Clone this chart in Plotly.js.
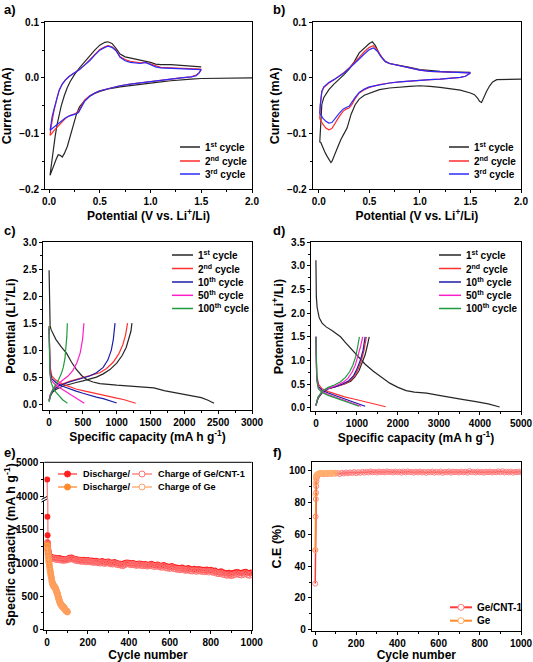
<!DOCTYPE html>
<html><head><meta charset="utf-8">
<script src="https://cdn.plot.ly/plotly-3.0.1.min.js"></script>
<style>html,body{margin:0;padding:0;background:#fff;}#chart{width:533px;height:662px;}</style>
</head><body><div id="chart"></div>
<script>
// ---------- Panel a: CV of Ge/CNT-1 [potential V, current mA] ----------
const cvA1 = [[2.0,0],[1.8,0],[1.6,-0.0005],[1.5,-0.001],[1.4,-0.002],[1.3,-0.003],[1.2,-0.005],[1.1,-0.007],[1.0,-0.009],[0.9,-0.011],[0.8,-0.013],[0.7,-0.016],[0.6,-0.019],[0.5,-0.024],[0.45,-0.028],[0.4,-0.033],[0.35,-0.041],[0.3,-0.052],[0.27,-0.065],[0.24,-0.085],[0.21,-0.105],[0.18,-0.123],[0.15,-0.136],[0.13,-0.142],[0.11,-0.139],[0.09,-0.138],[0.07,-0.146],[0.05,-0.155],[0.03,-0.165],[0.01,-0.175],
[0.02,-0.16],[0.04,-0.13],[0.06,-0.105],[0.08,-0.083],[0.1,-0.065],[0.12,-0.05],[0.15,-0.032],[0.18,-0.017],[0.21,-0.006],[0.25,0.006],[0.3,0.018],[0.35,0.029],[0.4,0.039],[0.45,0.05],[0.5,0.059],[0.55,0.064],[0.58,0.065],[0.62,0.062],[0.66,0.053],[0.7,0.043],[0.75,0.038],[0.8,0.036],[0.85,0.034],[0.9,0.032],[0.95,0.031],[1.0,0.028],[1.05,0.025],[1.1,0.024],[1.2,0.024],[1.3,0.023],[1.4,0.021],[1.5,0.02]];
const cvA2 = [[1.5,0.016],[1.48,0.01],[1.45,0.005],[1.4,0.002],[1.3,0],[1.2,-0.002],[1.1,-0.004],[1.0,-0.006],[0.9,-0.008],[0.8,-0.011],[0.7,-0.014],[0.6,-0.018],[0.5,-0.023],[0.45,-0.027],[0.4,-0.032],[0.35,-0.04],[0.32,-0.05],[0.29,-0.06],[0.26,-0.064],[0.23,-0.066],[0.2,-0.068],[0.16,-0.073],[0.12,-0.08],[0.08,-0.088],[0.05,-0.094],[0.03,-0.099],[0.01,-0.103],
[0.02,-0.088],[0.03,-0.075],[0.05,-0.058],[0.08,-0.035],[0.1,-0.022],[0.13,-0.011],[0.16,-0.004],[0.2,0.003],[0.25,0.009],[0.3,0.015],[0.35,0.023],[0.4,0.032],[0.45,0.042],[0.5,0.051],[0.55,0.056],[0.58,0.058],[0.62,0.056],[0.66,0.05],[0.7,0.038],[0.75,0.033],[0.8,0.03],[0.85,0.028],[0.9,0.027],[0.95,0.028],[1.0,0.025],[1.05,0.021],[1.1,0.019],[1.2,0.018],[1.3,0.017],[1.4,0.016],[1.5,0.016]];
const cvA3 = [[1.5,0.015],[1.48,0.009],[1.45,0.004],[1.4,0.002],[1.3,0],[1.2,-0.002],[1.1,-0.004],[1.0,-0.006],[0.9,-0.008],[0.8,-0.011],[0.7,-0.014],[0.6,-0.018],[0.5,-0.023],[0.45,-0.027],[0.4,-0.033],[0.35,-0.042],[0.32,-0.052],[0.29,-0.062],[0.26,-0.065],[0.23,-0.066],[0.2,-0.068],[0.16,-0.072],[0.12,-0.078],[0.08,-0.084],[0.05,-0.088],[0.03,-0.091],[0.01,-0.094],
[0.02,-0.082],[0.03,-0.07],[0.05,-0.055],[0.08,-0.034],[0.1,-0.022],[0.13,-0.011],[0.16,-0.004],[0.2,0.003],[0.25,0.009],[0.3,0.015],[0.35,0.023],[0.4,0.031],[0.45,0.041],[0.5,0.05],[0.55,0.055],[0.58,0.057],[0.62,0.055],[0.66,0.049],[0.7,0.037],[0.75,0.031],[0.8,0.028],[0.85,0.027],[0.9,0.026],[0.95,0.028],[1.0,0.024],[1.05,0.02],[1.1,0.018],[1.2,0.017],[1.3,0.016],[1.4,0.016],[1.5,0.015]];

// ---------- Panel b: CV of Ge ----------
const cvB1 = [[2.0,-0.002],[1.9,-0.002],[1.8,-0.002],[1.76,-0.003],[1.72,-0.007],[1.69,-0.014],[1.66,-0.024],[1.63,-0.036],[1.61,-0.044],[1.59,-0.042],[1.57,-0.036],[1.54,-0.03],[1.5,-0.027],[1.4,-0.022],[1.3,-0.019],[1.2,-0.017],[1.1,-0.015],[1.0,-0.014],[0.9,-0.015],[0.8,-0.016],[0.7,-0.018],[0.6,-0.021],[0.5,-0.027],[0.45,-0.031],[0.4,-0.038],[0.36,-0.048],[0.32,-0.065],[0.28,-0.09],[0.25,-0.1],[0.22,-0.11],[0.19,-0.123],[0.16,-0.138],[0.13,-0.15],[0.12,-0.152],[0.1,-0.147],[0.08,-0.14],[0.06,-0.133],[0.04,-0.124],[0.02,-0.116],[0.01,-0.115],
[0.015,-0.09],[0.02,-0.065],[0.03,-0.048],[0.05,-0.035],[0.08,-0.026],[0.1,-0.021],[0.15,-0.011],[0.2,-0.003],[0.25,0.006],[0.3,0.016],[0.35,0.029],[0.4,0.045],[0.45,0.054],[0.5,0.062],[0.53,0.065],[0.56,0.058],[0.6,0.043],[0.65,0.031],[0.7,0.026],[0.8,0.023],[0.9,0.019],[1.0,0.015],[1.1,0.013],[1.2,0.012],[1.3,0.011],[1.4,0.01],[1.5,0.01]];
const cvB2 = [[1.5,0.009],[1.48,0.006],[1.45,0.003],[1.4,0.001],[1.3,-0.001],[1.2,-0.002],[1.1,-0.003],[1.0,-0.004],[0.9,-0.005],[0.8,-0.007],[0.7,-0.009],[0.6,-0.012],[0.5,-0.017],[0.45,-0.021],[0.4,-0.027],[0.36,-0.037],[0.33,-0.047],[0.3,-0.054],[0.27,-0.056],[0.24,-0.06],[0.2,-0.07],[0.16,-0.083],[0.13,-0.091],[0.1,-0.093],[0.07,-0.09],[0.04,-0.083],[0.02,-0.076],[0.01,-0.073],
[0.015,-0.05],[0.02,-0.035],[0.03,-0.025],[0.05,-0.017],[0.08,-0.012],[0.1,-0.009],[0.15,-0.003],[0.2,0.003],[0.25,0.01],[0.3,0.018],[0.35,0.027],[0.4,0.037],[0.45,0.047],[0.5,0.055],[0.54,0.058],[0.58,0.05],[0.62,0.038],[0.66,0.029],[0.7,0.026],[0.8,0.022],[0.9,0.018],[1.0,0.014],[1.1,0.012],[1.2,0.011],[1.3,0.01],[1.4,0.01],[1.5,0.009]];
const cvB3 = [[1.5,0.009],[1.48,0.006],[1.45,0.003],[1.4,0.001],[1.3,-0.001],[1.2,-0.002],[1.1,-0.003],[1.0,-0.004],[0.9,-0.005],[0.8,-0.007],[0.7,-0.009],[0.6,-0.012],[0.5,-0.016],[0.45,-0.02],[0.4,-0.026],[0.36,-0.035],[0.33,-0.044],[0.3,-0.051],[0.27,-0.053],[0.24,-0.056],[0.2,-0.064],[0.16,-0.074],[0.13,-0.08],[0.1,-0.081],[0.07,-0.078],[0.04,-0.072],[0.02,-0.066],[0.01,-0.063],
[0.015,-0.048],[0.02,-0.033],[0.03,-0.024],[0.05,-0.016],[0.08,-0.011],[0.1,-0.008],[0.15,-0.003],[0.2,0.003],[0.25,0.009],[0.3,0.017],[0.35,0.025],[0.4,0.034],[0.45,0.043],[0.5,0.051],[0.54,0.054],[0.58,0.048],[0.62,0.037],[0.66,0.029],[0.7,0.026],[0.8,0.022],[0.9,0.018],[1.0,0.014],[1.1,0.012],[1.2,0.011],[1.3,0.01],[1.4,0.01],[1.5,0.009]];

// ---------- Panel c: Ge/CNT-1 profiles [capacity, potential] ----------
const c1dis = [[0,2.48],[2,2.0],[5,1.55],[15,1.45],[30,1.38],[100,1.2],[180,1.06],[260,0.94],[330,0.78],[400,0.65],[480,0.53],[560,0.45],[650,0.41],[750,0.38],[1000,0.35],[1300,0.33],[1550,0.3],[1700,0.25],[1900,0.2],[2100,0.16],[2250,0.12],[2350,0.07],[2440,0.015]];
const c1ch  = [[0,0.05],[20,0.15],[50,0.22],[100,0.27],[200,0.33],[300,0.37],[400,0.4],[500,0.43],[600,0.46],[700,0.5],[800,0.56],[900,0.64],[1000,0.76],[1080,0.9],[1140,1.05],[1180,1.2],[1210,1.35],[1225,1.5]];
const c2dis = [[0,1.45],[5,1.0],[15,0.7],[40,0.52],[100,0.44],[200,0.37],[300,0.32],[400,0.28],[500,0.25],[600,0.22],[700,0.19],[800,0.16],[900,0.13],[1000,0.11],[1100,0.085],[1200,0.05],[1280,0.015]];
const c2ch  = [[0,0.07],[20,0.18],[60,0.27],[150,0.35],[300,0.42],[450,0.47],[600,0.52],[750,0.58],[850,0.66],[950,0.78],[1030,0.93],[1090,1.1],[1130,1.28],[1160,1.5]];
const c10dis = [[0,1.4],[5,0.9],[15,0.6],[40,0.47],[100,0.4],[200,0.33],[300,0.28],[400,0.24],[500,0.2],[600,0.16],[700,0.13],[800,0.1],[900,0.06],[1000,0.02]];
const c10ch  = [[0,0.07],[20,0.17],[60,0.26],[150,0.34],[300,0.41],[450,0.46],[600,0.52],[700,0.58],[800,0.68],[870,0.82],[920,1.0],[950,1.2],[975,1.5]];
const c50dis = [[0,1.4],[5,0.85],[15,0.55],[40,0.43],[100,0.35],[200,0.27],[300,0.19],[400,0.11],[460,0.06],[520,0.015]];
const c50ch  = [[0,0.07],[20,0.18],[60,0.28],[120,0.36],[200,0.44],[280,0.52],[350,0.62],[410,0.76],[460,0.95],[495,1.2],[515,1.5]];
const c100dis = [[0,1.45],[3,1.0],[10,0.6],[25,0.42],[60,0.3],[100,0.22],[150,0.14],[200,0.08],[240,0.045],[270,0.015]];
const c100ch  = [[0,0.04],[10,0.12],[30,0.2],[60,0.28],[100,0.36],[140,0.45],[180,0.56],[210,0.68],[235,0.85],[250,1.05],[262,1.25],[270,1.5]];

// ---------- Panel d: Ge profiles ----------
const d1dis = [[0,3.12],[3,2.7],[10,2.35],[30,2.12],[80,1.9],[150,1.79],[250,1.71],[400,1.63],[500,1.57],[600,1.5],[700,1.4],[850,1.25],[1000,1.1],[1200,0.92],[1400,0.77],[1600,0.64],[1800,0.52],[2000,0.43],[2200,0.36],[2400,0.33],[2700,0.31],[3000,0.26],[3300,0.21],[3600,0.17],[3900,0.13],[4200,0.08],[4480,0.015]];
const d1ch  = [[0,0.05],[50,0.2],[150,0.32],[300,0.4],[500,0.45],[700,0.5],[850,0.56],[950,0.65],[1050,0.78],[1130,0.95],[1200,1.12],[1250,1.3],[1300,1.5]];
const d2dis = [[0,1.5],[5,1.0],[20,0.7],[60,0.5],[150,0.4],[300,0.34],[500,0.28],[700,0.23],[900,0.19],[1100,0.15],[1300,0.11],[1500,0.07],[1700,0.02]];
const d2ch  = [[0,0.05],[50,0.2],[150,0.32],[300,0.4],[500,0.45],[700,0.51],[850,0.58],[950,0.68],[1030,0.82],[1110,1.0],[1170,1.2],[1230,1.5]];
const d10dis = [[0,1.5],[5,1.0],[20,0.65],[60,0.45],[150,0.37],[300,0.31],[500,0.25],[700,0.19],[900,0.13],[1100,0.07],[1200,0.03]];
const d10ch  = [[0,0.05],[50,0.2],[150,0.32],[300,0.4],[500,0.45],[650,0.5],[800,0.57],[920,0.68],[1010,0.84],[1090,1.02],[1150,1.22],[1200,1.5]];
const d50dis = [[0,1.5],[5,1.0],[20,0.6],[60,0.42],[150,0.34],[300,0.28],[500,0.22],[700,0.16],[900,0.1],[1100,0.03]];
const d50ch  = [[0,0.05],[50,0.22],[150,0.34],[300,0.41],[500,0.47],[650,0.53],[780,0.62],[880,0.75],[960,0.9],[1030,1.1],[1090,1.3],[1140,1.5]];
const d100dis = [[0,1.5],[5,1.0],[20,0.58],[60,0.4],[150,0.32],[300,0.26],[500,0.2],[700,0.14],[900,0.08],[1050,0.03]];
const d100ch  = [[0,0.05],[50,0.22],[150,0.35],[300,0.43],[450,0.48],[600,0.55],[720,0.64],[820,0.76],[900,0.9],[970,1.08],[1020,1.3],[1060,1.5]];

// ---------- Panel e: cycling [cycle, discharge, charge] ----------
const eCNT = [[1,4500,1310],[2,1700,1290],[3,1420,1250],[4,1310,1215],[5,1250,1190],[6,1210,1165],[7,1180,1150],[8,1160,1135],[9,1140,1120],[10,1125,1110],
[20,1095,1075],[30,1085,1070],[40,1080,1060],[50,1070,1055],[60,1075,1050],[70,1065,1045],[80,1060,1040],[90,1055,1045],[100,1065,1050],
[110,1080,1060],[120,1085,1065],[130,1070,1055],[140,1060,1040],[150,1055,1035],[160,1050,1035],[170,1045,1025],[180,1050,1030],[190,1040,1020],[200,1045,1025],
[210,1035,1020],[220,1040,1015],[230,1030,1010],[240,1035,1015],[250,1025,1005],[260,1020,1000],[270,1030,1010],[280,1015,995],[290,1020,1000],[300,1025,1005],
[310,1010,990],[320,1005,985],[330,1015,995],[340,1000,980],[350,995,975],[360,990,970],[370,985,960],[380,1000,975],[390,1010,990],[400,1005,985],
[410,995,975],[420,1000,980],[430,990,970],[440,985,965],[450,995,975],[460,990,965],[470,980,960],[480,985,965],[490,975,955],[500,980,960],
[510,990,970],[520,975,950],[530,970,950],[540,980,960],[550,965,945],[560,960,935],[570,970,950],[580,955,930],[590,950,925],[600,945,920],
[610,955,935],[620,940,915],[630,935,910],[640,930,905],[650,925,900],[660,935,910],[670,920,895],[680,915,890],[690,925,900],[700,910,885],
[710,905,880],[720,915,890],[730,900,875],[740,910,885],[750,905,880],[760,900,875],[770,895,870],[780,905,880],[790,890,865],[800,900,875],
[810,885,860],[820,890,865],[830,870,845],[840,865,840],[850,875,850],[860,860,830],[870,850,825],[880,845,815],[890,855,825],[900,840,810],
[910,850,820],[920,860,830],[930,865,840],[940,855,825],[950,850,820],[960,860,830],[970,870,845],[980,855,825],[990,845,815],[1000,860,830]];
const eGe = [[1,1280,1250],[2,1270,1200],[4,1200,1140],[6,1130,1090],[8,1080,1040],[10,1040,1000],[12,990,955],[14,940,910],[16,900,870],[18,860,830],[20,820,795],[22,790,765],[24,750,725],[26,720,700],[28,700,680],[30,680,665],[32,670,655],[34,660,645],[36,650,640],[38,645,635],[40,640,625],[42,625,610],[44,610,595],[46,590,575],[48,570,555],[50,560,545],[52,540,525],[54,510,495],[56,490,475],[58,470,455],[60,450,435],[62,430,415],[64,410,400],[66,395,385],[68,385,375],[70,375,365],[72,365,355],[74,360,350],[76,350,340],[78,345,335],[80,340,330],[82,335,325],[84,330,320],[86,320,310],[88,310,300],[90,300,290],[92,290,282],[94,285,277],[96,280,272],[98,275,268],[100,270,262]];

// ---------- Panel f: coulombic efficiency [cycle, %] ----------
const ceCNT = [[1,29],[2,50],[3,71],[4,82],[5,86],[6,90],[7,93],[8,95],[9,96],[10,96.5],
[20,97.4],[30,97.8],[40,97.5],[50,98.0],[60,97.6],[70,98.1],[80,97.7],[90,98.2],[100,97.9],[110,98.3],[120,97.6],[130,98.4],[140,98.0],[150,98.6],[160,98.1],[170,98.7],[180,98.3],[190,98.9],[200,98.2],
[210,98.8],[220,98.4],[230,99.0],[240,98.5],[250,99.1],[260,98.6],[270,99.3],[280,98.7],[290,99.0],[300,98.6],[310,99.2],[320,98.8],[330,99.1],[340,98.7],[350,99.3],[360,98.9],[370,99.0],[380,98.6],[390,99.2],[400,98.8],
[410,99.1],[420,98.5],[430,99.2],[440,98.7],[450,99.3],[460,98.8],[470,99.0],[480,98.5],[490,99.1],[500,98.7],[510,99.2],[520,98.6],[530,99.0],[540,98.4],[550,99.1],[560,98.7],[570,99.2],[580,98.5],[590,99.0],[600,98.6],
[610,99.2],[620,98.4],[630,99.0],[640,98.7],[650,99.3],[660,98.5],[670,99.1],[680,98.8],[690,99.0],[700,98.6],[710,99.2],[720,98.7],[730,99.1],[740,98.5],[750,99.5],[760,98.8],[770,99.0],[780,98.6],[790,99.2],[800,98.7],
[810,99.0],[820,98.5],[830,99.1],[840,98.8],[850,99.2],[860,98.6],[870,99.0],[880,98.7],[890,99.3],[900,98.8],[910,99.4],[920,98.6],[930,99.1],[940,98.7],[950,99.2],[960,98.5],[970,99.0],[980,98.8],[990,99.2],[1000,98.7]];
const ceGe = [[1,50],[2,85],[3,92],[4,95],[5,96],[6,96.5],[8,97],[10,97.5],[15,97.8],[20,98.2],[25,98.0],[30,98.5],[35,97.6],[40,98.3],[45,98.1],[50,97.8],[55,98.4],[60,98.0],[65,98.3],[70,97.9],[75,98.5],[80,98.2],[85,98.0],[90,98.4],[95,98.1],[100,98.5]];

// ---------- text ----------
const cvLegend = ['1<sup>st</sup> cycle','2<sup>nd</sup> cycle','3<sup>rd</sup> cycle'];
const gcLegend = ['1<sup>st</sup> cycle','2<sup>nd</sup> cycle','10<sup>th</sup> cycle','50<sup>th</sup> cycle','100<sup>th</sup> cycle'];
const cvColors = ['#262626','#ff2b2b','#2b2bff'];
const gcColors = ['#262626','#ff3030','#1c1ca8','#ff1fc8','#1f9a3c'];

// ---------- build ----------
const W=533,H=662;
const px = v => v/W, py = v => 1 - v/H;
const FONT = 'Liberation Sans, Arial, sans-serif';
const col = (arr,i) => arr.map(r => r[i]);

function lineTrace(arr, color, xa, ya){
  return {type:'scatter', mode:'lines', x:col(arr,0), y:col(arr,1), xaxis:xa, yaxis:ya,
          line:{color:color, width:1.2}, showlegend:false, hoverinfo:'skip'};
}
const traces = [];
[cvA1,cvA2,cvA3].forEach((d,i)=>traces.push(lineTrace(d,cvColors[i],'x','y')));
[cvB1,cvB2,cvB3].forEach((d,i)=>traces.push(lineTrace(d,cvColors[i],'x2','y2')));
[[c1dis,c1ch],[c2dis,c2ch],[c10dis,c10ch],[c50dis,c50ch],[c100dis,c100ch]].forEach((p,i)=>{
  p.forEach(d=>traces.push(lineTrace(d,gcColors[i],'x3','y3')));});
[[d1dis,d1ch],[d2dis,d2ch],[d10dis,d10ch],[d50dis,d50ch],[d100dis,d100ch]].forEach((p,i)=>{
  p.forEach(d=>traces.push(lineTrace(d,gcColors[i],'x4','y4')));});

const eStyles = [
  {data:eCNT, idx:1, line:'#ff5a5a', mk:{symbol:'circle', color:'#ff1f1f', size:6}},
  {data:eCNT, idx:2, line:'#ff8a8a', mk:{symbol:'circle-open', color:'#ff7070', size:6, line:{width:1}}},
  {data:eGe, idx:1, line:'#ff9a50', mk:{symbol:'circle', color:'#ff8a2a', size:6}},
  {data:eGe, idx:2, line:'#ffb27a', mk:{symbol:'circle-open', color:'#ffa060', size:6, line:{width:1}}}
];
['y5','y7'].forEach(ya=>{
  eStyles.forEach(s=>traces.push({type:'scatter', mode:'lines+markers', x:col(s.data,0), y:col(s.data,s.idx),
    xaxis:'x5', yaxis:ya, line:{color:s.line, width:1}, marker:s.mk, showlegend:false, hoverinfo:'skip'}));
});
traces.push({type:'scatter', mode:'lines+markers', x:col(ceCNT,0), y:col(ceCNT,1), xaxis:'x6', yaxis:'y6',
  line:{color:'#ff3c3c', width:1.5}, marker:{symbol:'circle-open', color:'#ff8080', size:5, line:{width:1}}, showlegend:false, hoverinfo:'skip'});
traces.push({type:'scatter', mode:'lines+markers', x:col(ceGe,0), y:col(ceGe,1), xaxis:'x6', yaxis:'y6',
  line:{color:'#ff8a2a', width:1.5}, marker:{symbol:'circle-open', color:'#ffb070', size:5, line:{width:1}}, showlegend:false, hoverinfo:'skip'});

const tickfont = {family:FONT, size:10, color:'#000', weight:'bold'};
const titlefont = {family:FONT, size:12, color:'#000', weight:'bold'};
const ytitlefont = {family:FONT, size:12.5, color:'#000', weight:'bold'};
function axis(o, isY){
  const base = {showline:true, mirror:true, linecolor:'#000', linewidth:1, ticks:'outside', ticklen:3, tickwidth:1,
    tickcolor:'#000', showgrid:false, zeroline:false, tickfont:tickfont, fixedrange:true,
    minor:{ticks:'outside', ticklen:2, tickcolor:'#000', showgrid:false}};
  const r = Object.assign(base, o);
  if (o.minorDtick){ r.minor.dtick = o.minorDtick; delete r.minorDtick; }
  if (o.titleText){ r.title = {text:o.titleText, font:isY?ytitlefont:titlefont, standoff:o.standoff||4}; delete r.titleText; delete r.standoff; }
  return r;
}

const layout = {
  width:W, height:H, margin:{l:0,r:0,t:0,b:0}, paper_bgcolor:'#fff', plot_bgcolor:'#fff', showlegend:false,
  font:{family:FONT, color:'#000'},
  xaxis: axis({domain:[px(45),px(252)], range:[-0.04,2.0], dtick:0.5, tick0:0, tickformat:'.1f', minorDtick:0.25, anchor:'y', titleText:'Potential (V vs. Li<sup>+</sup>/Li)'}),
  yaxis: axis({domain:[py(189.3),py(22.3)], range:[-0.2,0.1], dtick:0.1, tick0:0, tickformat:'.1f', minorDtick:0.05, anchor:'x', titleText:'Current (mA)'}, true),
  xaxis2: axis({domain:[px(312.7),px(521)], range:[-0.06,2.0], dtick:0.5, tick0:0, tickformat:'.1f', minorDtick:0.25, anchor:'y2', titleText:'Potential (V vs. Li<sup>+</sup>/Li)'}),
  yaxis2: axis({domain:[py(189.3),py(22.3)], range:[-0.2,0.1], dtick:0.1, tick0:0, tickformat:'.1f', minorDtick:0.05, anchor:'x2', titleText:'Current (mA)'}, true),
  xaxis3: axis({domain:[px(43),px(252)], range:[-90,3000], dtick:500, tick0:0, minorDtick:250, anchor:'y3', titleText:'Specific capacity (mA h g<sup>-1</sup>)'}),
  yaxis3: axis({domain:[py(410),py(242.3)], range:[-0.11,3.0], dtick:0.5, tick0:0, tickformat:'.1f', minorDtick:0.25, anchor:'x3', titleText:'Potential (Li<sup>+</sup>/Li)'}, true),
  xaxis4: axis({domain:[px(311),px(521)], range:[-120,5000], dtick:1000, tick0:0, minorDtick:500, anchor:'y4', titleText:'Specific capacity (mA h g<sup>-1</sup>)'}),
  yaxis4: axis({domain:[py(411),py(242.3)], range:[-0.07,3.5], dtick:0.5, tick0:0, tickformat:'.1f', minorDtick:0.25, anchor:'x4', titleText:'Potential (Li<sup>+</sup>/Li)'}, true),
  xaxis5: axis({domain:[px(44.3),px(251.7)], range:[-13,1000], dtick:200, tick0:0, minorDtick:100, anchor:'y5', mirror:false, titleText:'Cycle number'}),
  yaxis5: axis({domain:[py(630),py(499.3)], range:[-10,1963], dtick:500, tick0:0, minorDtick:250, anchor:'x5'}),
  yaxis7: axis({domain:[py(499.3),py(462.3)], range:[3922,5000], tickvals:[4000,5000], anchor:'x5', minor:{ticks:'outside', ticklen:2, tickcolor:'#000', tickvals:[4500]}}),
  xaxis6: axis({domain:[px(311.7),px(521)], range:[-16,1000], dtick:200, tick0:0, minorDtick:100, anchor:'y6', titleText:'Cycle number'}),
  yaxis6: axis({domain:[py(630.7),py(462.3)], range:[-0.5,105], dtick:20, tick0:0, minorDtick:10, anchor:'x6', titleText:'C.E (%)'}, true),
  annotations: [], shapes: []
};

const ann = layout.annotations, shp = layout.shapes;
function label(t,x,y){ ann.push({text:t, x:px(x), y:py(y), xref:'paper', yref:'paper', xanchor:'left', yanchor:'middle', showarrow:false, font:{family:FONT, size:13, color:'#000', weight:'bold'}}); }
label('a)',2,10); label('b)',271,10); label('c)',2,230); label('d)',271,230); label('e)',2,452); label('f)',271,452);

function legText(t,x,y,s){ ann.push({text:t, x:px(x), y:py(y), xref:'paper', yref:'paper', xanchor:'left', yanchor:'middle', showarrow:false, font:{family:FONT, size:s||10, color:'#000', weight:'bold'}}); }
function legLine(x0,x1,y,color,w){ shp.push({type:'line', xref:'paper', yref:'paper', x0:px(x0), x1:px(x1), y0:py(y), y1:py(y), line:{color:color, width:w||1.5}}); }
function legDot(x,y,fill,edge){ shp.push({type:'circle', xref:'paper', yref:'paper', xsizemode:'pixel', ysizemode:'pixel', xanchor:px(x), yanchor:py(y), x0:-3, x1:3, y0:-3, y1:3, fillcolor:fill, line:{color:edge, width:1}}); }

const cvLegY = [147,161,174];
cvLegend.forEach((t,i)=>{ legLine(180,200,cvLegY[i],cvColors[i]); legText(t,203,cvLegY[i]);
                          legLine(449,469,cvLegY[i],cvColors[i]); legText(t,472,cvLegY[i]); });
const gcLegY = [255,268.5,282,295.3,308.5];
gcLegend.forEach((t,i)=>{ legLine(172,193,gcLegY[i],gcColors[i]); legText(t,196,gcLegY[i]);
                          legLine(439,461,gcLegY[i],gcColors[i]); legText(t,464,gcLegY[i]); });
// panel e legend
legLine(58,77,474,'#ff5a5a'); legDot(67.5,474,'#ff1f1f','#ff1f1f'); legText('Discharge/',81,474,9.2);
legLine(132,152,474,'#ff8a8a'); legDot(142,474,'#ffffff','#ff7070'); legText('Charge of Ge/CNT-1',156,474,9.2);
legLine(58,77,487,'#ff9a50'); legDot(67.5,487,'#ff8a2a','#ff8a2a'); legText('Discharge/',81,487,9.2);
legLine(132,152,487,'#ffb27a'); legDot(142,487,'#ffffff','#ffa060'); legText('Charge of Ge',156,487,9.2);
// panel f legend
legLine(450,472,607.3,'#ff3c3c',2); legDot(461,607.3,'#ffffff','#ff8080'); legText('Ge/CNT-1',475,607.3);
legLine(450,472,620.7,'#ff8a2a',2); legDot(461,620.7,'#ffffff','#ffb070'); legText('Ge',475,620.7);

// panel e: top border and axis break
shp.push({type:'line', xref:'paper', yref:'paper', x0:px(44.3), x1:px(251.7), y0:py(462.3), y1:py(462.3), line:{color:'#000', width:1}});
shp.push({type:'rect', xref:'paper', yref:'paper', x0:px(42), x1:px(47), y0:py(501), y1:py(497.5), fillcolor:'#fff', line:{width:0}});
shp.push({type:'line', xref:'paper', yref:'paper', x0:px(41.5), x1:px(47), y0:py(502), y1:py(499), line:{color:'#000', width:1}});
shp.push({type:'line', xref:'paper', yref:'paper', x0:px(41.5), x1:px(47), y0:py(499.5), y1:py(496.5), line:{color:'#000', width:1}});
// panel e y title spanning the broken axis
ann.push({text:'Specific capacity (mA h g<sup>-1</sup>)', x:px(10), y:py(545), xref:'paper', yref:'paper', xanchor:'center', yanchor:'middle', textangle:-90, showarrow:false, font:ytitlefont});

Plotly.newPlot('chart', traces, layout, {staticPlot:true, displayModeBar:false});
</script>
</body></html>
